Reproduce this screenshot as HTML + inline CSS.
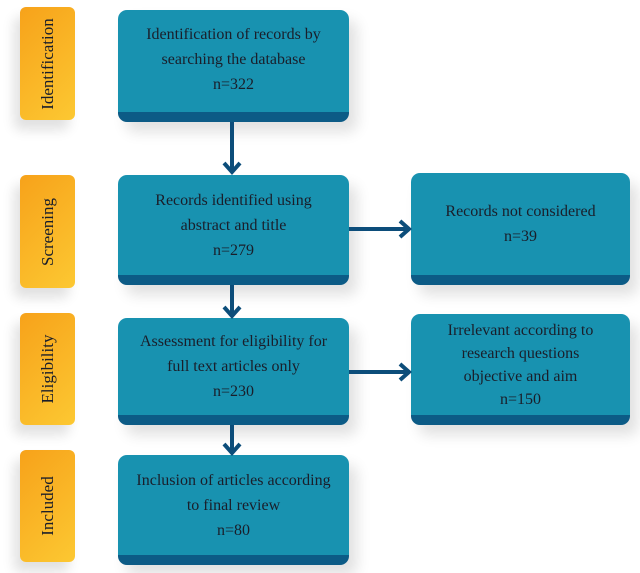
<!DOCTYPE html>
<html><head><style>
body{margin:0;width:640px;height:573px;background:#fff;position:relative;overflow:hidden;font-family:"Liberation Serif",serif;}
.b{position:absolute;background:#1892b0;border-radius:9px;border-bottom:10px solid #0c5b86;box-sizing:border-box;color:#1a1e2a;font-size:16px;line-height:25px;text-align:center;display:flex;align-items:center;justify-content:center;box-shadow:8px 10px 14px rgba(0,0,0,0.12);}
.s{position:absolute;left:20px;width:55px;border-radius:6px;background:linear-gradient(135deg,#f7a21a,#fcc832);box-shadow:-6px 10px 12px rgba(0,0,0,0.12);}
.s span{position:absolute;left:50%;top:50%;transform:translate(-50%,-50%) rotate(-90deg);font-size:17px;color:#1a1e2a;white-space:nowrap;}
.v{position:absolute;left:230px;width:4px;background:#0c4d7a;}
.h{position:absolute;left:349px;width:58px;height:4px;background:#0c4d7a;}
</style></head><body>
<div class="s" style="top:7px;height:113px"><span>Identification</span></div>
<div class="s" style="top:175px;height:113px"><span>Screening</span></div>
<div class="s" style="top:313px;height:112px"><span>Eligibility</span></div>
<div class="s" style="top:450px;height:112px"><span>Included</span></div>

<div class="b" style="left:118px;top:10px;width:231px;height:112px;padding-bottom:4px">Identification of records by<br>searching the database<br>n=322</div>
<div class="b" style="left:118px;top:175px;width:231px;height:110px">Records identified using<br>abstract and title<br>n=279</div>
<div class="b" style="left:118px;top:318px;width:231px;height:107px">Assessment for eligibility for<br>full text articles only<br>n=230</div>
<div class="b" style="left:118px;top:455px;width:231px;height:110px">Inclusion of articles according<br>to final review<br>n=80</div>
<div class="b" style="left:411px;top:173px;width:219px;height:112px">Records not considered<br>n=39</div>
<div class="b" style="left:411px;top:314px;width:219px;height:111px;line-height:23px">Irrelevant according to<br>research questions<br>objective and aim<br>n=150</div>

<svg width="640" height="573" style="position:absolute;left:0;top:0">
<g stroke="#0c4d7a" stroke-width="4" fill="none">
<line x1="232" y1="122" x2="232" y2="172"/><polyline points="224,163 232,172 240,163"/>
<line x1="232" y1="285" x2="232" y2="316"/><polyline points="224,307 232,316 240,307"/>
<line x1="232" y1="425" x2="232" y2="453"/><polyline points="224,444 232,453 240,444"/>
<line x1="349" y1="229" x2="409" y2="229"/><polyline points="400,221 409,229 400,237"/>
<line x1="349" y1="372" x2="409" y2="372"/><polyline points="400,364 409,372 400,380"/>
</g></svg>
</body></html>
